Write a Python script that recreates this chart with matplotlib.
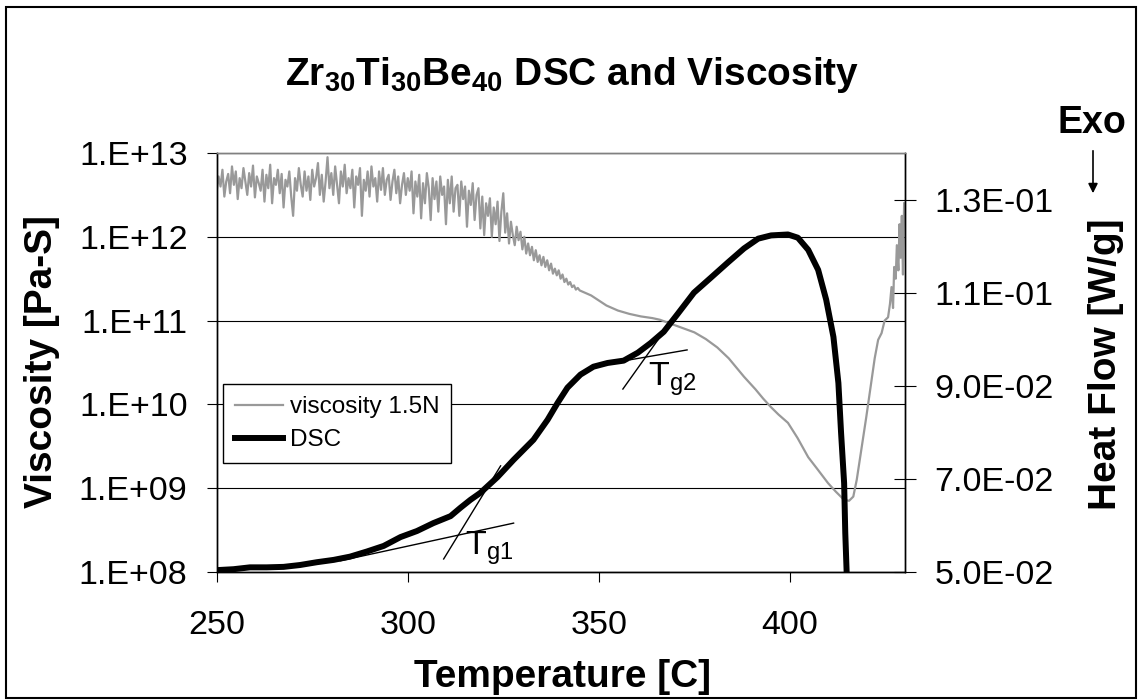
import numpy as np
import matplotlib
matplotlib.use("Agg")
import matplotlib.pyplot as plt
from matplotlib.patches import Rectangle, FancyArrowPatch
from matplotlib.ticker import FixedLocator, NullLocator

plt.rcParams['font.family'] = ['Liberation Sans', 'DejaVu Sans']
plt.rcParams['mathtext.default'] = 'regular'

# viscosity (Pa-S), stored as log10 values
# noisy part: readings every 0.5 C from 250 to 344.5 C
noisy_T = np.arange(250.0, 345.0, 0.5)
noisy_log = [12.55, 12.72, 12.60, 12.80, 12.48, 12.66, 12.75, 12.52, 12.84, 12.62,
             12.78, 12.45, 12.70, 12.58, 12.82, 12.66, 12.50, 12.76, 12.60, 12.85,
             12.47, 12.72, 12.64, 12.55, 12.80, 12.42, 12.74, 12.58, 12.86, 12.40,
             12.70, 12.62, 12.80, 12.52, 12.75, 12.35, 12.68, 12.60, 12.78, 12.48,
             12.25, 12.70, 12.55, 12.82, 12.62, 12.48, 12.78, 12.55, 12.72, 12.44,
             12.80, 12.60, 12.70, 12.88, 12.50, 12.74, 12.42, 12.66, 12.95, 12.58,
             12.76, 12.50, 12.84, 12.62, 12.40, 12.78, 12.60, 12.86, 12.52, 12.70,
             12.58, 12.80, 12.35, 12.72, 12.62, 12.82, 12.25, 12.68, 12.55, 12.78,
             12.48, 12.84, 12.60, 12.70, 12.42, 12.78, 12.56, 12.82, 12.50, 12.68,
             12.74, 12.44, 12.66, 12.80, 12.52, 12.72, 12.40, 12.62, 12.76, 12.50,
             12.70, 12.55, 12.78, 12.28, 12.66, 12.48, 12.74, 12.22, 12.64, 12.40,
             12.76, 12.58, 12.20, 12.70, 12.45, 12.66, 12.30, 12.72, 12.50, 12.60,
             12.15, 12.68, 12.40, 12.72, 12.30, 12.58, 12.62, 12.25, 12.66, 12.45,
             12.60, 12.12, 12.55, 12.38, 12.64, 12.20, 12.50, 12.58, 12.10, 12.48,
             12.02, 12.40, 12.25, 12.46, 12.00, 12.35, 12.15, 12.42, 11.95, 12.30,
             12.52, 12.05, 12.28, 11.92, 12.18, 12.02, 11.90, 12.12, 11.96, 12.06,
             11.85, 12.00, 11.80, 11.92, 11.78, 11.88, 11.72, 11.84, 11.70, 11.78,
             11.66, 11.76, 11.64, 11.72, 11.60, 11.68, 11.56, 11.62, 11.54, 11.60,
             11.50, 11.55, 11.46, 11.50, 11.43, 11.46, 11.40, 11.42, 11.37, 11.39]
smooth_T = [345, 348, 350, 352, 355, 358, 361, 364, 366, 369, 372,
            375, 378, 381, 384, 386, 388, 391, 393, 395, 397,
            399.5, 402, 404.8, 407, 410, 412, 414.2, 415.5, 416.6, 417.5,
            418.7, 420, 421.3, 422.2, 423.1, 424, 424.8, 425.7, 426.2, 426.6,
            427.0, 427.3, 427.7, 428.0, 428.4, 428.7, 429.0, 429.3, 429.6, 429.9]
smooth_log = [11.36, 11.30, 11.24, 11.18, 11.12, 11.08, 11.05, 11.03, 11.01, 10.96, 10.91,
              10.86, 10.78, 10.68, 10.55, 10.44, 10.33, 10.18, 10.07, 9.97, 9.88,
              9.78, 9.60, 9.37, 9.24, 9.06, 8.96, 8.86, 8.85, 8.90, 9.10,
              9.46, 9.85, 10.26, 10.55, 10.77, 10.85, 11.00, 11.04, 11.20, 11.40,
              11.15, 11.64, 11.50, 11.90, 11.60, 12.15, 11.75, 12.25, 11.55, 12.40]

# DSC heat flow (W/g)
dsc_T = [250.0, 254.4, 258.7, 263.1, 267.5, 271.8, 276.2, 280.6, 284.9, 289.3,
         293.7, 298.1, 302.4, 306.7, 311.2, 313.8, 316.4, 319.0, 323.5, 327.7,
         332.9, 336.6, 339.2, 341.8, 345.2, 348.6, 352.3, 356.5, 360.2, 363.6,
         367.0, 370.7, 374.9, 379.3, 383.8, 388.0, 391.7, 395.1, 399.5, 402.1,
         404.8, 407.4, 409.5, 411.4, 412.7, 413.4, 414.2, 414.5, 414.9]
dsc_hf = [0.0504, 0.0506, 0.0510, 0.0510, 0.0511, 0.0515, 0.0521, 0.0526, 0.0533, 0.0544,
          0.0556, 0.0575, 0.0588, 0.0605, 0.0620, 0.0638, 0.0655, 0.0670, 0.0704, 0.0741,
          0.0784, 0.0827, 0.0863, 0.0896, 0.0924, 0.0941, 0.0949, 0.0954, 0.0971, 0.0992,
          0.1016, 0.1055, 0.1100, 0.1132, 0.1165, 0.1195, 0.1216, 0.1223, 0.1225, 0.1218,
          0.1192, 0.1149, 0.1085, 0.1005, 0.0906, 0.0799, 0.0691, 0.0584, 0.0490]

# glass transition tangent lines, (T, heat flow) end points
tg1_base = [(282.3, 0.0524), (327.7, 0.0605)]
tg1_steep = [(309.4, 0.0528), (324.3, 0.0728)]
tg2_base = [(358.3, 0.0956), (373.1, 0.0977)]
tg2_steep = [(356.3, 0.0893), (365.5, 0.0999)]

visc_ticks = [1e8, 1e9, 1e10, 1e11, 1e12, 1e13]
visc_labels = ['1.E+08', '1.E+09', '1.E+10', '1.E+11', '1.E+12', '1.E+13']
hf_ticks = [0.05, 0.07, 0.09, 0.11, 0.13]
hf_labels = ['5.0E-02', '7.0E-02', '9.0E-02', '1.1E-01', '1.3E-01']
temp_ticks = [250, 300, 350, 400]

visc_T = np.concatenate([noisy_T, smooth_T])
visc = 10 ** np.array(noisy_log + smooth_log)

W, H = 1139, 700
fig = plt.figure(figsize=(W / 100, H / 100), dpi=100)
L, R, T, B = 216.7, 904.5, 153, 572
ax1 = fig.add_axes([L / W, 1 - B / H, (R - L) / W, (B - T) / H])
ax2 = ax1.twinx()

ax1.plot(visc_T, visc, color='#999999', lw=1.6, zorder=2)
ax1.set_yscale('log')
ax1.set_ylim(1e8, 1e13)
ax1.set_xlim(250, 430)
ax1.yaxis.set_major_locator(FixedLocator(visc_ticks))
ax1.yaxis.set_minor_locator(NullLocator())
ax1.set_yticklabels(visc_labels)
ax1.set_xticks(temp_ticks)
ax1.grid(axis='y', color='black', lw=0.8)
ax1.tick_params(axis='y', direction='out', length=7, width=0.8, labelsize=24.5, pad=14)
ax1.tick_params(axis='x', direction='out', length=7, width=0.8, labelsize=24.5, pad=20)

ax2.plot(dsc_T, dsc_hf, color='black', lw=4.3, solid_capstyle='butt', zorder=3)
for seg in (tg1_base, tg1_steep, tg2_base, tg2_steep):
    xs, ys = zip(*seg)
    ax2.plot(xs, ys, color='black', lw=1.0)
ax2.set_ylim(0.05, 0.14)
ax2.set_yticks(hf_ticks)
ax2.set_yticklabels(hf_labels)
ax2.tick_params(axis='y', direction='inout', length=16, width=0.8, labelsize=24.5, pad=13.5)

ax2.text(315.0, 0.0552, r'T$_{g1}$', fontsize=24.5, va='center')
ax2.text(362.8, 0.0913, r'T$_{g2}$', fontsize=24.5, va='center')

for ax in (ax1, ax2):
    ax.spines['top'].set_color('#808080')
    for s in ('left', 'right', 'bottom', 'top'):
        ax.spines[s].set_linewidth(1.0)

visc_line = plt.Line2D([], [], color='#999999', lw=1.6)
dsc_line = plt.Line2D([], [], color='black', lw=4.3)
leg = ax2.legend([visc_line, dsc_line], ['viscosity 1.5N', 'DSC'],
                 loc='upper left', bbox_to_anchor=(0.0087, 0.4487), borderaxespad=0,
                 fontsize=17.5, frameon=True, fancybox=False, framealpha=1,
                 edgecolor='black', handlelength=2.0, handletextpad=0.25,
                 borderpad=0.5, labelspacing=0.45)
leg.get_frame().set_linewidth(1.0)

fig.text(572 / W, 1 - 85 / H, r'Zr$_{30}$Ti$_{30}$Be$_{40}$ DSC and Viscosity',
         fontsize=28, fontweight='bold', ha='center', va='baseline')
fig.text(562.5 / W, 1 - 687 / H, 'Temperature [C]', fontsize=28, fontweight='bold',
         ha='center', va='baseline')
fig.text(42.5 / W, 1 - 362 / H, 'Viscosity [Pa-S]', fontsize=28, fontweight='bold',
         ha='center', va='center', rotation=90)
fig.text(1106 / W, 1 - 364 / H, 'Heat Flow [W/g]', fontsize=28, fontweight='bold',
         ha='center', va='center', rotation=90)
fig.text(1092 / W, 1 - 133 / H, 'Exo', fontsize=27, fontweight='bold',
         ha='center', va='baseline')
fig.add_artist(FancyArrowPatch(
    (1093 / W, 1 - 148 / H), (1093 / W, 1 - 196 / H), transform=fig.transFigure,
    arrowstyle='-|>', mutation_scale=14, color='black', lw=1.2))

fig.patches.append(Rectangle((6 / W, 2 / H), 1130 / W, 691 / H, transform=fig.transFigure,
                             fill=False, edgecolor='black', lw=1.5))

fig.savefig('out.png', dpi=100)
